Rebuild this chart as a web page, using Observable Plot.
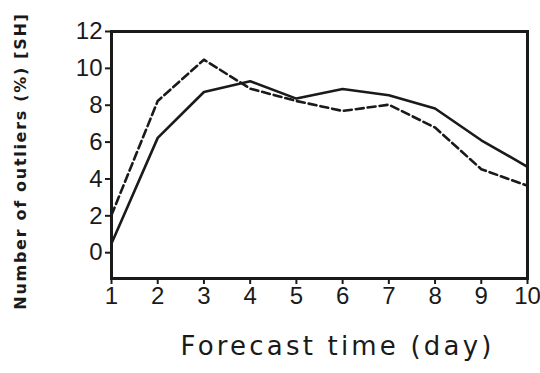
<!DOCTYPE html>
<html><head><meta charset="utf-8">
<script src="https://cdn.jsdelivr.net/npm/d3@7"></script>
<script src="https://cdn.jsdelivr.net/npm/@observablehq/plot@0.6"></script>
<style>body{margin:0;background:#fff}</style>
</head><body><div id="chart"></div>
<script>
const days = [1,2,3,4,5,6,7,8,9,10];
const solidValues = [0.5,6.23,8.72,9.30,8.36,8.88,8.54,7.82,6.10,4.66];
const dashedValues = [2.04,8.23,10.47,8.90,8.23,7.69,8.03,6.79,4.53,3.63];
const xTicks = [1,2,3,4,5,6,7,8,9,10];
const yTicks = [0,2,4,6,8,10,12];
const xLabel = "Forecast time (day)";
const yLabel = "Number of outliers (%) [SH]";

const solid = days.map((d,i)=>({day:d, v:solidValues[i]}));
const dashed = days.map((d,i)=>({day:d, v:dashedValues[i]}));

const chart = Plot.plot({
  width: 540, height: 373,
  marginLeft: 111, marginRight: 13, marginTop: 31, marginBottom: 95,
  x: {domain: [1,10]},
  y: {domain: [-1.4,12]},
  style: {fontFamily: "Liberation Sans, Arial, sans-serif", color: "#1a1a1a", background: "#fff"},
  marks: [
    Plot.axisX(xTicks, {tickSize: 6, tickPadding: 2, label: null, strokeWidth: 2, fontSize: 24, textStroke: "none"}),
    Plot.axisY(yTicks, {tickSize: 6, tickPadding: 3, label: null, strokeWidth: 2, fontSize: 24}),
    Plot.line(solid, {x: "day", y: "v", stroke: "#1a1a1a", strokeWidth: 2.6}),
    Plot.line(dashed, {x: "day", y: "v", stroke: "#1a1a1a", strokeWidth: 2.6, strokeDasharray: "8,4"}),
    Plot.frame({stroke: "#1a1a1a", strokeWidth: 3}),
    Plot.text([xLabel], {frameAnchor: "bottom", dx: 18, dy: 76, fontSize: 26, fontFamily: "DejaVu Sans", fill: "#1a1a1a", className: "xlab"}),
    Plot.text([yLabel], {frameAnchor: "left", textAnchor: "middle", dx: -91, dy: 6, rotate: -90, fontSize: 16, fontWeight: "bold", fontFamily: "DejaVu Sans", fill: "#1a1a1a", className: "ylab"})
  ]
});
const svg = d3.select(chart);
svg.selectAll(".xlab text").style("letter-spacing", "3.2px");
svg.selectAll(".ylab text").style("letter-spacing", "1.7px");
document.getElementById("chart").append(chart);
</script>
</body></html>
